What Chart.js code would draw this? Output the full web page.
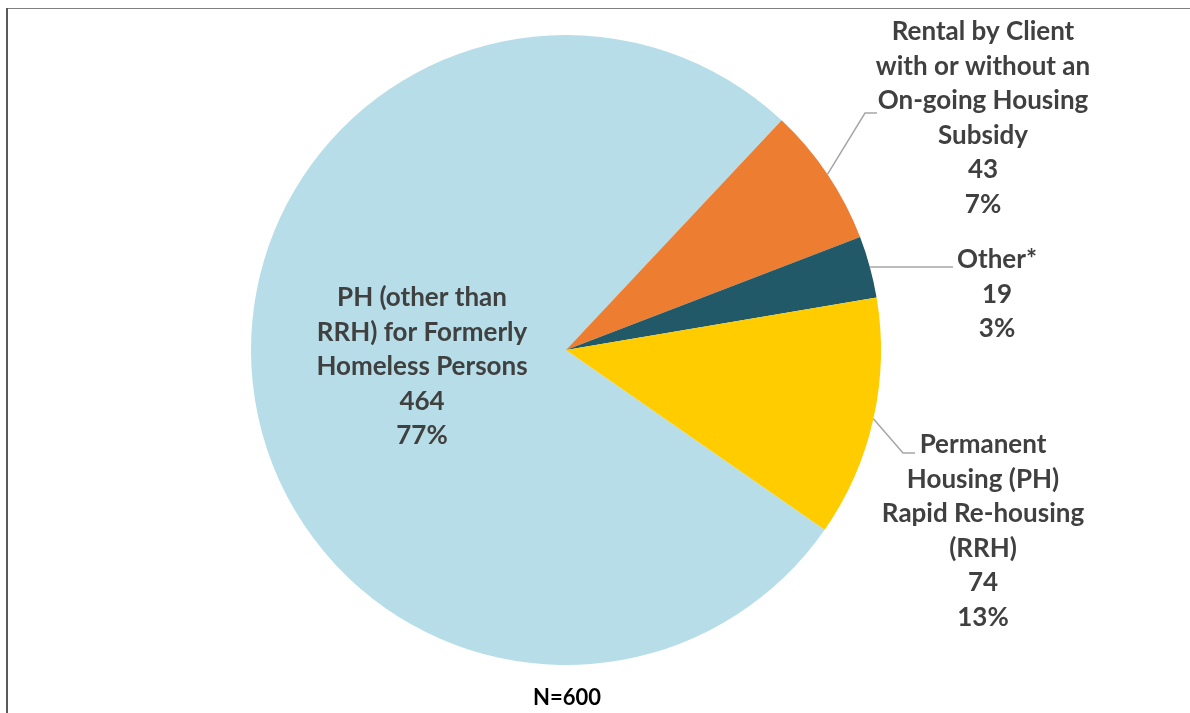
<!DOCTYPE html>
<html>
<head>
<meta charset="utf-8">
<script src="https://cdn.jsdelivr.net/npm/chart.js@4.4.0/dist/chart.umd.min.js"></script>
<style>
	html, body { margin: 0; padding: 0; background: #fff; }
	#wrap { width: 1190px; height: 713px; }
</style>
</head>
<body>
<div id="wrap"><canvas id="housing_pie" width="1190" height="713"></canvas></div>
<script>
// data
const categories = [
	"PH (other than RRH) for Formerly Homeless Persons",
	"Rental by Client with or without an On-going Housing Subsidy",
	"Other*",
	"Permanent Housing (PH) Rapid Re-housing (RRH)",
];
const categoryLines = [
	["PH (other than", "RRH) for Formerly", "Homeless Persons"],
	["Rental by Client", "with or without an", "On-going Housing", "Subsidy"],
	["Other*"],
	["Permanent", "Housing (PH)", "Rapid Re-housing", "(RRH)"],
];
const counts = [464, 43, 19, 74];
const percents = ["77%", "7%", "3%", "13%"];
const totalLabel = "N=600";

const sliceColors = ["#B7DEE8", "#ED7D31", "#215968", "#FFCC00"];
const textColor = "#404040";
const leaderColor = "#A6A6A6";
const labelFont = "bold 26px Lato";
const lineHeight = 34.5;

// label block placement, relative to the pie centre (px)
// text: [centre x, first line y]; leader: [knee x, knee y, end x, end y] or null
const labelPlacement = [
	{ text: [-144, -52], leader: null },
	{ text: [417, -318], leader: [299, -237, 311, -237] },
	{ text: [431, -90], leader: [387, -83, 387, -83] },
	{ text: [417, 95], leader: [337, 103, 349, 103] },
];

const pieLabels = {
	id: "pieLabels",
	afterDatasetsDraw(chart) {
		const ctx = chart.ctx;
		const arcs = chart.getDatasetMeta(0).data;
		ctx.save();
		arcs.forEach((arc, i) => {
			const cx = arc.x, cy = arc.y;
			const place = labelPlacement[i];
			if (place.leader) {
				const mid = (arc.startAngle + arc.endAngle) / 2;
				const sx = cx + Math.cos(mid) * arc.outerRadius;
				const sy = cy + Math.sin(mid) * arc.outerRadius;
				ctx.beginPath();
				ctx.strokeStyle = leaderColor;
				ctx.lineWidth = 1.5;
				ctx.moveTo(sx, sy);
				ctx.lineTo(cx + place.leader[0], cy + place.leader[1]);
				ctx.lineTo(cx + place.leader[2], cy + place.leader[3]);
				ctx.stroke();
			}
			const lines = categoryLines[i].concat([String(counts[i]), percents[i]]);
			ctx.fillStyle = textColor;
			ctx.font = labelFont;
			ctx.textAlign = "center";
			ctx.textBaseline = "middle";
			lines.forEach((t, j) => {
				ctx.fillText(t, cx + place.text[0], cy + place.text[1] + j * lineHeight);
			});
		});
		ctx.restore();
	},
	afterDraw(chart) {
		const ctx = chart.ctx;
		ctx.save();
		// chart frame (top + left edges)
		ctx.strokeStyle = "#7F7F7F";
		ctx.lineWidth = 1;
		ctx.beginPath();
		ctx.moveTo(6, 8.5);
		ctx.lineTo(1190, 8.5);
		ctx.stroke();
		ctx.strokeStyle = "#595959";
		ctx.lineWidth = 2;
		ctx.beginPath();
		ctx.moveTo(7, 8);
		ctx.lineTo(7, 713);
		ctx.stroke();
		// total
		ctx.fillStyle = "#000";
		ctx.font = "bold 22px Lato";
		ctx.textAlign = "center";
		ctx.textBaseline = "middle";
		ctx.fillText(totalLabel, 567, 698);
		ctx.restore();
	},
};

const housing_cont = document.getElementById("housing_pie").getContext("2d");
const housing = new Chart(housing_cont, {
	type: "pie",
	data: {
		labels: categories,
		datasets: [
			{
				data: counts,
				backgroundColor: sliceColors,
				borderWidth: 0,
			},
		],
	},
	options: {
		responsive: false,
		animation: false,
		rotation: 124.8,
		layout: {
			padding: { top: 35, bottom: 48, left: 0, right: 58 },
		},
		plugins: {
			legend: { display: false },
			tooltip: { enabled: false },
		},
	},
	plugins: [pieLabels],
});
</script>
</body>
</html>
